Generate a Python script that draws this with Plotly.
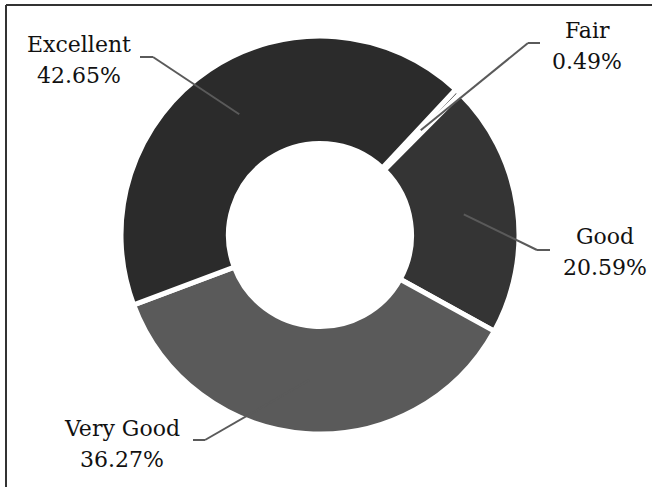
import math
import plotly.graph_objects as go

# ---- data ----
labels = ["Fair", "Good", "Very Good", "Excellent"]
values = [0.49, 20.59, 36.27, 42.65]
colors = ["#3a3a3a", "#343434", "#5a5a5a", "#2b2b2b"]

W, H = 652, 487
CX, CY, R = 320, 235, 199          # pie centre / radius in pixels
ROT = 43
HOLE = 0.46

def px2paper(x, y):
    return x / W, 1 - y / H

fig = go.Figure()
fig.add_trace(go.Pie(
    labels=labels, values=values, sort=False, direction="clockwise",
    rotation=ROT, hole=HOLE, textinfo="none", hoverinfo="label+percent",
    marker=dict(colors=colors, line=dict(color="white", width=5)),
    domain=dict(x=[(CX - R) / W, (CX + R) / W],
                y=[(H - CY - R) / H, (H - CY + R) / H]),
    showlegend=False,
))

# label layout: (text centre x, block centre y, elbow-end x, elbow x, elbow y)
layout_info = {
    "Excellent": (79, 60, 140, 153, 57),
    "Fair": (587, 46, 540, 528, 43),
    "Good": (605, 252, 550, 537, 250),
    "Very Good": (122, 444, 193, 205, 440),
}

total = sum(values)
cum = 0.0
shapes = []
annotations = []
line_col = "#5a5a5a"
for lab, v in zip(labels, values):
    mid = math.radians(ROT + 360 * (cum + v / 2) / total)
    cum += v
    rr = R * 0.73
    rx, ry = CX + rr * math.sin(mid), CY - rr * math.cos(mid)
    tx, ty, ex, bx, by = layout_info[lab]
    for (x0, y0, x1, y1) in [(ex, by, bx, by), (bx, by, rx, ry)]:
        a0 = px2paper(x0, y0)
        a1 = px2paper(x1, y1)
        shapes.append(dict(type="line", xref="paper", yref="paper",
                           x0=a0[0], y0=a0[1], x1=a1[0], y1=a1[1],
                           line=dict(color=line_col, width=2)))
    for txt, dy in [(lab, -15.5), (f"{v:.2f}%", 15.5)]:
        p = px2paper(tx, ty + dy)
        annotations.append(dict(x=p[0], y=p[1], xref="paper", yref="paper",
                                text=txt, showarrow=False,
                                xanchor="center", yanchor="middle",
                                font=dict(family="DejaVu Serif", size=22,
                                          color="#111111")))

# frame lines (top and left)
shapes.append(dict(type="line", xref="paper", yref="paper",
                   x0=6 / W, y0=1 - 5 / H, x1=1, y1=1 - 5 / H,
                   line=dict(color="#333333", width=2)))
shapes.append(dict(type="line", xref="paper", yref="paper",
                   x0=6 / W, y0=1 - 5 / H, x1=6 / W, y1=0,
                   line=dict(color="#333333", width=2)))

fig.update_layout(
    width=W, height=H,
    margin=dict(l=0, r=0, t=0, b=0),
    paper_bgcolor="white", plot_bgcolor="white",
    shapes=shapes, annotations=annotations,
)
fig.write_html("out.html")
